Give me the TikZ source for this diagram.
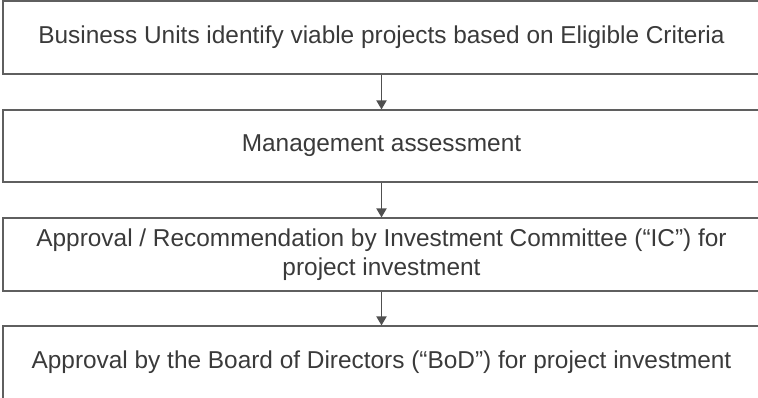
\documentclass[tikz,border=0pt]{standalone}
\usepackage{fontspec}
\setmainfont{Liberation Sans}
\usetikzlibrary{arrows.meta}
\definecolor{boxline}{HTML}{5F5F5F}
\definecolor{txt}{HTML}{3A3A3A}
\definecolor{arr}{HTML}{505050}
\begin{document}
\begin{tikzpicture}[x=1pt,y=-1pt,
  stepbox/.style={draw=boxline,line width=1.1pt,rectangle,minimum width=757pt,minimum height=72pt,inner sep=0pt,
    text=txt,font=\fontsize{24.4}{29.5}\selectfont,align=center,anchor=center},
  flow/.style={draw=arr,line width=1.8pt,-{Triangle[length=9pt,width=10pt]}}]
\useasboundingbox (0,0) rectangle (758,398);
\clip (0,0) rectangle (758,398);
\node[stepbox,minimum height=73pt] (b1) at (381.5,37.5) {Business Units identify viable projects based on Eligible Criteria};
\node[stepbox] (b2) at (381.5,146) {Management assessment};
\node[stepbox,minimum height=73pt] (b3) at (381.5,254.5) {Approval / Recommendation by Investment Committee (“IC”) for\\project investment};
\node[stepbox,minimum height=73pt] (b4) at (381.5,362.5) {Approval by the Board of Directors (“BoD”) for project investment};
\draw[flow] (b1.south) -- (b2.north);
\draw[flow] (b2.south) -- (b3.north);
\draw[flow] (b3.south) -- (b4.north);
\end{tikzpicture}
\end{document}
